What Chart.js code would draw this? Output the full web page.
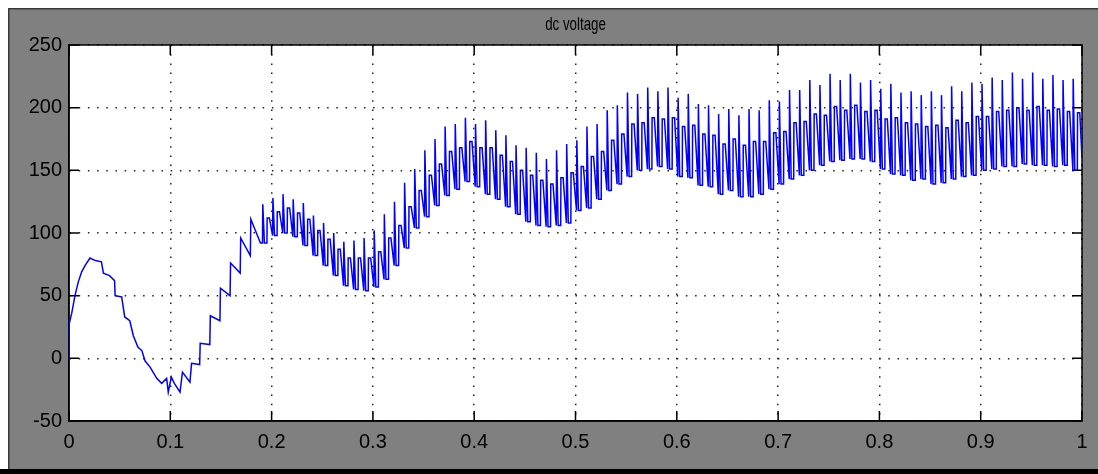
<!DOCTYPE html>
<html>
<head>
<meta charset="utf-8">
<script src="https://cdn.jsdelivr.net/npm/chart.js@4/dist/chart.umd.min.js"></script>
<style>
  html, body { margin: 0; padding: 0; background: #ffffff; }
  #wrap { position: relative; width: 1098px; height: 474px; }
</style>
</head>
<body>
<div id="wrap"><canvas id="c" width="1098" height="474"></canvas></div>
<script>
// ---- data ----
const chartTitle = "dc voltage";
const xTickValues = [0, 0.1, 0.2, 0.3, 0.4, 0.5, 0.6, 0.7, 0.8, 0.9, 1];
const yTickValues = [-50, 0, 50, 100, 150, 200, 250];

// start-up segment (time s, voltage V)
const startTimes = [0, 0.0003, 0.0027, 0.0059, 0.0092, 0.0125, 0.0158, 0.0207, 0.026, 0.032,
  0.034, 0.040, 0.045, 0.0455, 0.052, 0.055, 0.060, 0.0635, 0.068, 0.072,
  0.075, 0.080, 0.083, 0.0866, 0.0915, 0.0964, 0.098, 0.101, 0.104, 0.1096,
  0.112, 0.1194, 0.121, 0.129, 0.1295, 0.139, 0.1395, 0.149, 0.1495, 0.159,
  0.1595, 0.169, 0.1695, 0.179, 0.1795, 0.189];
const startValues = [0, 28, 36, 50, 61, 69, 74, 80, 78, 77,
  68, 66, 62, 50, 49, 33, 30, 18, 9, 6,
  -2, -7, -11, -16, -20, -16, -27, -15, -20, -27,
  -11, -19, -4, -5, 12, 11, 34, 30, 56, 50,
  76, 68, 96, 82, 111, 92];

// ripple cycles: start time, low level, spike top, top of the secondary step
const cycleTimes = [
  0.191, 0.201, 0.211, 0.221, 0.231, 0.241, 0.251, 0.261, 0.271, 0.281,
  0.291, 0.301, 0.311, 0.321, 0.331, 0.341, 0.351, 0.361, 0.371, 0.381,
  0.391, 0.401, 0.411, 0.421, 0.431, 0.441, 0.451, 0.461, 0.471, 0.481,
  0.491, 0.501, 0.511, 0.521, 0.531, 0.541, 0.551, 0.561, 0.571, 0.581,
  0.591, 0.601, 0.611, 0.621, 0.631, 0.641, 0.651, 0.661, 0.671, 0.681,
  0.691, 0.701, 0.711, 0.721, 0.731, 0.741, 0.751, 0.761, 0.771, 0.781,
  0.791, 0.801, 0.811, 0.821, 0.831, 0.841, 0.851, 0.861, 0.871, 0.881,
  0.891, 0.901, 0.911, 0.921, 0.931, 0.941, 0.951, 0.961, 0.971, 0.981,
  0.991];
const cycleTroughs = [
  92, 98, 100, 97, 90, 82, 74, 66, 58, 55,
  54, 57, 63, 74, 88, 104, 113, 122, 130, 135,
  141, 137, 131, 127, 121, 115, 109, 106, 105, 106,
  108, 118, 120, 127, 134, 139, 145, 150, 151, 153,
  151, 145, 144, 138, 137, 131, 134, 129, 129, 131,
  135, 139, 143, 146, 150, 154, 157, 158, 159, 159,
  157, 151, 147, 146, 142, 143, 139, 140, 143, 145,
  146, 150, 151, 153, 153, 155, 154, 154, 153, 154,
  150];
const cyclePeaks = [
  123, 128, 131, 127, 124, 114, 108, 100, 93, 94,
  96, 102, 115, 125, 140, 151, 166, 175, 185, 187,
  192, 187, 190, 182, 178, 170, 168, 164, 159, 166,
  171, 174, 185, 187, 198, 202, 212, 211, 216, 213,
  216, 208, 211, 203, 202, 195, 199, 194, 199, 198,
  206, 205, 214, 214, 222, 218, 227, 222, 227, 220,
  222, 215, 219, 212, 213, 210, 213, 210, 217, 213,
  220, 219, 224, 222, 228, 223, 228, 223, 226, 222,
  223];
const cycleSteps = [
  112, 117, 120, 116, 111, 102, 95, 87, 80, 80,
  80, 85, 96, 106, 121, 134, 146, 155, 165, 168,
  173, 168, 168, 162, 157, 150, 146, 142, 139, 144,
  148, 153, 161, 165, 174, 179, 187, 188, 192, 191,
  192, 185, 186, 179, 178, 171, 175, 170, 173, 173,
  180, 181, 188, 189, 195, 194, 201, 198, 202, 197,
  198, 191, 192, 188, 187, 185, 186, 184, 190, 188,
  193, 193, 197, 198, 200, 198, 201, 198, 199, 197,
  196];
const endTime = 1.0;
const endValue = 160;

// ---- build the point list ----
const pts = [];
startTimes.forEach((t, i) => pts.push({ x: t, y: startValues[i] }));
cycleTimes.forEach((t, i) => {
  pts.push({ x: t, y: cycleTroughs[i] });
  pts.push({ x: t + 0.0003, y: cyclePeaks[i] });
  pts.push({ x: t + 0.0019, y: cycleTroughs[i] });
  pts.push({ x: t + 0.0044, y: cycleTroughs[i] });
  pts.push({ x: t + 0.0046, y: cycleSteps[i] });
  pts.push({ x: t + 0.0068, y: cycleSteps[i] });
});
pts.push({ x: endTime, y: endValue });

// ---- layout constants ----
const PLOT_L = 69, PLOT_T = 45, PLOT_R = 1082, PLOT_B = 421;
const W = 1098, H = 474;

const framePlugin = {
  id: 'frame',
  beforeDraw(chart) {
    const ctx = chart.ctx;
    ctx.save();
    ctx.fillStyle = '#ffffff';
    ctx.fillRect(0, 0, W, H);
    ctx.fillStyle = '#808080';
    ctx.fillRect(8, 8, W - 8, H - 8);
    ctx.fillStyle = '#3a3a3a';
    ctx.fillRect(8, 8, W - 8, 1.5);
    ctx.fillRect(8, 8, 1.5, H - 8);
    ctx.fillStyle = '#000000';
    ctx.fillRect(0, 469, W, 5);
    const a = chart.chartArea;
    ctx.fillStyle = '#ffffff';
    ctx.fillRect(a.left, a.top, a.right - a.left, a.bottom - a.top);
    // title
    ctx.fillStyle = '#000000';
    ctx.font = '18px "Liberation Sans", Arial, sans-serif';
    ctx.textAlign = 'center';
    ctx.textBaseline = 'middle';
    ctx.translate((a.left + a.right) / 2, 25);
    ctx.scale(0.74, 1);
    ctx.fillText(chartTitle, 0, 0);
    ctx.restore();
  },
  beforeDatasetsDraw(chart) {
    const ctx = chart.ctx;
    const a = chart.chartArea;
    const xs = chart.scales.x, ys = chart.scales.y;
    const L = 10;
    ctx.save();
    ctx.strokeStyle = '#000000';
    ctx.lineWidth = 1.5;
    ctx.beginPath();
    xTickValues.forEach(v => {
      const px = xs.getPixelForValue(v);
      ctx.moveTo(px, a.bottom); ctx.lineTo(px, a.bottom - L);
      ctx.moveTo(px, a.top); ctx.lineTo(px, a.top + L);
    });
    yTickValues.forEach(v => {
      const py = ys.getPixelForValue(v);
      ctx.moveTo(a.left, py); ctx.lineTo(a.left + L, py);
      ctx.moveTo(a.right, py); ctx.lineTo(a.right - L, py);
    });
    ctx.stroke();
    ctx.strokeRect(a.left, a.top, a.right - a.left, a.bottom - a.top);
    ctx.restore();
  }
};

new Chart(document.getElementById('c'), {
  type: 'line',
  data: {
    datasets: [{
      data: pts,
      borderColor: '#0000ff',
      borderWidth: 1.5,
      borderDash: [100000, 0],
      pointRadius: 0,
      tension: 0,
      fill: false
    }]
  },
  options: {
    responsive: false,
    animation: false,
    parsing: false,
    normalized: true,
    layout: { padding: { left: 0, top: PLOT_T, right: W - PLOT_R, bottom: 0 } },
    plugins: { legend: { display: false }, title: { display: false }, tooltip: { enabled: false } },
    scales: {
      x: {
        type: 'linear', min: 0, max: 1,
        afterBuildTicks: s => { s.ticks = xTickValues.map(v => ({ value: v })); },
        afterFit: s => { s.height = H - PLOT_B; },
        grid: { color: '#222222', lineWidth: 1.5, drawTicks: false },
        border: { display: true, color: '#000000', width: 1.5, dash: [1.5, 7.7] },
        ticks: {
          color: '#000000', padding: 9,
          font: { family: '"Liberation Sans", Arial, sans-serif', size: 20 },
          maxRotation: 0, autoSkip: false,
          callback: v => String(+v.toFixed(1))
        }
      },
      y: {
        type: 'linear', min: -50, max: 250,
        afterBuildTicks: s => { s.ticks = yTickValues.map(v => ({ value: v })); },
        afterFit: s => { s.width = PLOT_L; },
        grid: { color: '#222222', lineWidth: 1.5, drawTicks: false },
        border: { display: true, color: '#000000', width: 1.5, dash: [1.5, 7.7] },
        ticks: {
          color: '#000000', padding: 7,
          font: { family: '"Liberation Sans", Arial, sans-serif', size: 20 },
          autoSkip: false,
          callback: v => String(v)
        }
      }
    }
  },
  plugins: [framePlugin]
});
</script>
</body>
</html>
